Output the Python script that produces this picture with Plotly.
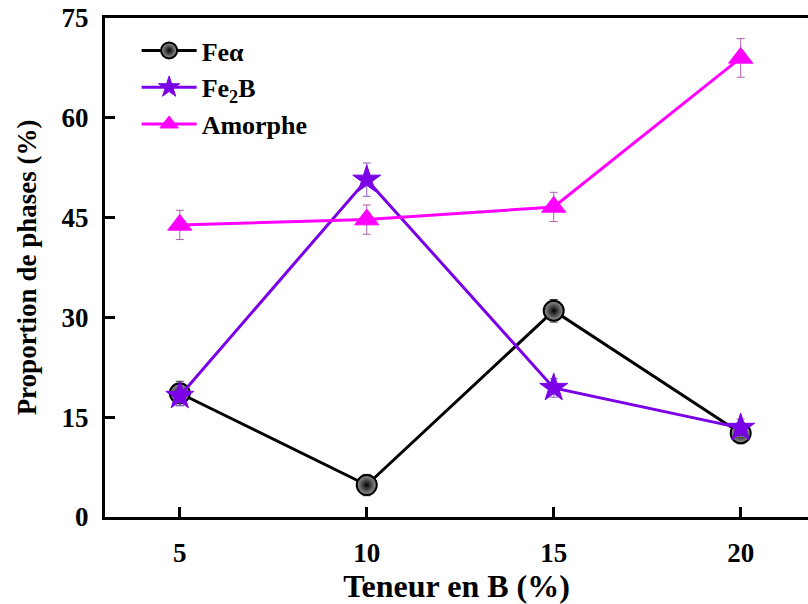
import plotly.graph_objects as go

# Boron content (%) and phase proportions (%)
boron = [5, 10, 15, 20]
fe_alpha = [18.6, 4.8, 31.0, 12.6]
fe_alpha_err = [1.8, 1.6, 1.7, 1.6]
fe2b = [18.2, 50.7, 19.4, 13.4]
fe2b_err = [1.5, 2.5, 1.4, 1.3]
amorphe = [43.9, 44.7, 46.6, 69.0]
amorphe_err = [2.2, 2.2, 2.2, 2.9]

FONT = "Liberation Serif"
BLACK = "#000000"
VIOLET = "#7A00E6"
MAGENTA = "#FF00FF"

fig = go.Figure()

fig.add_trace(go.Scatter(
    x=boron, y=fe_alpha, name="Feα", mode="lines+markers",
    line=dict(color=BLACK, width=3),
    marker=dict(symbol="circle", size=20, color="#9a9a9a",
                gradient=dict(type="radial", color="#000000"),
                line=dict(color=BLACK, width=2)),
    error_y=dict(type="data", array=fe_alpha_err, color="#333333",
                 thickness=1, width=4),
))
fig.add_trace(go.Scatter(
    x=boron, y=fe2b, name="Fe<sub>2</sub>B", mode="lines+markers",
    line=dict(color=VIOLET, width=3),
    marker=dict(symbol="star", size=21, color=VIOLET,
                line=dict(color=VIOLET, width=1)),
    error_y=dict(type="data", array=fe2b_err, color="#8a5cc7",
                 thickness=1, width=4),
))
fig.add_trace(go.Scatter(
    x=boron, y=amorphe, name="Amorphe", mode="lines+markers",
    line=dict(color=MAGENTA, width=3),
    marker=dict(symbol="triangle-up", size=21, color=MAGENTA,
                line=dict(color=MAGENTA, width=1)),
    error_y=dict(type="data", array=amorphe_err, color="#b060b0",
                 thickness=1, width=4),
))

fig.update_layout(
    width=808, height=604,
    margin=dict(l=105, r=0, t=18, b=87),
    paper_bgcolor="white", plot_bgcolor="white",
    font=dict(family=FONT, size=22, color=BLACK),
    showlegend=True,
    legend=dict(x=0.045, y=0.982, xanchor="left", yanchor="top",
                bgcolor="rgba(0,0,0,0)", borderwidth=0,
                font=dict(family=FONT, size=26, color=BLACK, weight="bold"),
                itemwidth=55, tracegroupgap=0),
)

fig.update_xaxes(
    range=[3, 21.8], tickvals=boron, ticktext=[str(v) for v in boron],
    automargin=False,
    showgrid=False, zeroline=False,
    showline=True, linecolor=BLACK, linewidth=3, mirror=True,
    ticks="inside", ticklen=10, tickwidth=3, tickcolor=BLACK,
    ticklabelstandoff=10,
    tickfont=dict(family=FONT, size=27, color=BLACK, weight="bold"),
    title=dict(text="Teneur en B (%)", standoff=14,
               font=dict(family=FONT, size=32, color=BLACK, weight="bold")),
)
fig.update_yaxes(
    range=[0, 75], tickvals=[0, 15, 30, 45, 60, 75],
    automargin=False,
    showgrid=False, zeroline=False,
    showline=True, linecolor=BLACK, linewidth=3, mirror=False,
    ticks="inside", ticklen=10, tickwidth=3, tickcolor=BLACK,
    ticklabelstandoff=8,
    tickfont=dict(family=FONT, size=27, color=BLACK, weight="bold"),
    title=dict(text="Proportion de phases (%)", standoff=18,
               font=dict(family=FONT, size=27, color=BLACK, weight="bold")),
)

fig.write_html("out.html")
